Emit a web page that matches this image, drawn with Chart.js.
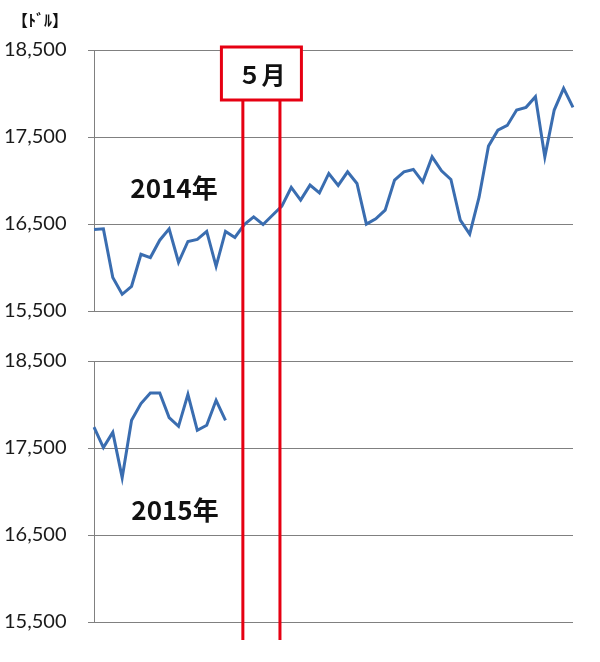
<!DOCTYPE html>
<html>
<head>
<meta charset="utf-8">
<script src="https://cdn.jsdelivr.net/npm/chart.js@4"></script>
<style>
  body { margin: 0; background: #fff; }
  canvas { display: block; }
</style>
</head>
<body>
<canvas id="chart2014" width="600" height="336"></canvas>
<canvas id="chart2015" width="600" height="326"></canvas>
<script>
// weekly closes (USD)
const weekLabels = ['1','2','3','4','5','6','7','8','9','10','11','12','13','14','15','16','17','18','19','20',
  '21','22','23','24','25','26','27','28','29','30','31','32','33','34','35','36','37','38','39','40',
  '41','42','43','44','45','46','47','48','49','50','51','52'];
const values2014 = [16437, 16444, 15884, 15692, 15784, 16152, 16114, 16314, 16444, 16060,
  16299, 16322, 16414, 16014, 16414, 16345, 16494, 16582, 16494, 16601,
  16705, 16920, 16774, 16947, 16858, 17081, 16943, 17100, 16966, 16498,
  16559, 16659, 17004, 17100, 17127, 16984, 17272, 17111, 17012, 16544,
  16383, 16808, 17395, 17579, 17633, 17810, 17841, 17963, 17272, 17810,
  18059, 17841];
const values2015 = [17741, 17505, 17680, 17159, 17818, 18010, 18132, 18132, 17849, 17749,
  18117, 17703, 17761, 18048, 17818];
const tickValues = [15500, 16500, 17500, 18500];
const mayBounds = [15.85, 19.8]; // week positions of the May band

const lineBlue = '#3a6db0';
const markRed = '#e60012';
const gridGray = '#808080';
const tickFont = { family: 'Lato', size: 20 };

const mayMarker = {
  id: 'mayMarker',
  afterDatasetsDraw(chart, args, opts) {
    const ctx = chart.ctx;
    const x = chart.scales.x;
    const x1 = x.getPixelForValue(mayBounds[0]);
    const x2 = x.getPixelForValue(mayBounds[1]);
    ctx.save();

    if (opts.box) {
      const mid = (x1 + x2) / 2;
      ctx.fillStyle = '#fff';
      ctx.fillRect(mid - 40, 47, 80, 53);
      ctx.strokeStyle = markRed;
      ctx.lineWidth = 3;
      ctx.strokeRect(mid - 40, 47, 80, 53);
      ctx.fillStyle = '#111';
      ctx.font = 'bold 24px "Noto Sans CJK JP"';
      ctx.textAlign = 'center';
      ctx.textBaseline = 'middle';
      ctx.fillText('５月', mid, 75);
    }

    ctx.strokeStyle = markRed;
    ctx.lineWidth = 3;
    ctx.beginPath();
    ctx.moveTo(x1, opts.lineTop);
    ctx.lineTo(x1, opts.lineBottom);
    ctx.moveTo(x2, opts.lineTop);
    ctx.lineTo(x2, opts.lineBottom);
    ctx.stroke();

    ctx.fillStyle = '#111';
    ctx.textAlign = 'center';
    ctx.textBaseline = 'middle';
    ctx.font = 'bold 26px "Noto Sans CJK JP"';
    ctx.fillText(opts.year, opts.yearX, opts.yearY);

    if (opts.unit) {
      ctx.textAlign = 'left';
      ctx.font = 'bold 16px "Noto Sans CJK JP"';
      ctx.fillText('【ﾄﾞﾙ】', 12, 20);
    }
    ctx.restore();
  }
};

function makeChart(canvasId, values, padding, markerOpts) {
  const ctx = document.getElementById(canvasId).getContext('2d');
  return new Chart(ctx, {
    type: 'line',
    data: {
      labels: weekLabels,
      datasets: [{
        data: values,
        borderColor: lineBlue,
        borderWidth: 3,
        pointRadius: 0,
        tension: 0,
        fill: false
      }]
    },
    options: {
      responsive: false,
      animation: false,
      layout: { padding: padding },
      plugins: {
        legend: { display: false },
        tooltip: { enabled: false },
        mayMarker: markerOpts
      },
      scales: {
        x: { display: false },
        y: {
          min: 15500,
          max: 18500,
          afterBuildTicks: scale => {
            scale.ticks = tickValues.map(v => ({ value: v }));
          },
          afterFit: scale => {
            scale.width = 90;
          },
          ticks: {
            color: '#1a1a1a',
            font: tickFont,
            padding: 2,
            crossAlign: 'far',
            callback: v => v.toLocaleString('en-US')
          },
          grid: { color: gridGray, tickLength: 6 },
          border: { color: gridGray, width: 1 }
        }
      }
    },
    plugins: [mayMarker]
  });
}

makeChart('chart2014', values2014, { left: 4, right: 27, top: 50, bottom: 25 },
  { box: true, unit: true, lineTop: 100, lineBottom: 336, year: '2014年', yearX: 174, yearY: 188 });
makeChart('chart2015', values2015, { left: 4, right: 27, top: 25, bottom: 40 },
  { box: false, unit: false, lineTop: 0, lineBottom: 304, year: '2015年', yearX: 175, yearY: 174 });
</script>
</body>
</html>
